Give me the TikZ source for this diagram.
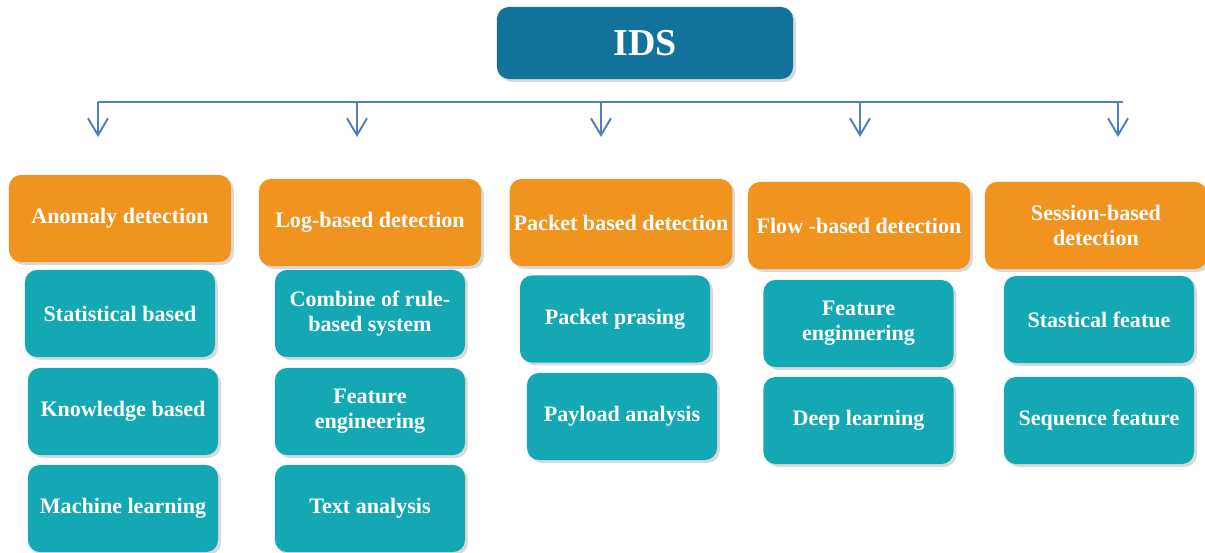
\documentclass[tikz,border=0pt]{standalone}
\usepackage{fontspec}
\setmainfont{Liberation Serif}
\usetikzlibrary{shadows,arrows.meta}

\definecolor{idsblue}{HTML}{13729B}
\definecolor{greinorange}{HTML}{F0931F}
\definecolor{bladteal}{HTML}{13A8B4}
\definecolor{pilblue}{HTML}{4F7FC0}

\begin{document}
\begin{tikzpicture}
   [
    x=0.025cm, y=-0.025cm,
    every node/.style={text=white, align=center, inner sep=1mm,
                       font=\bfseries\fontsize{15.7}{18}\selectfont},
    kasse/.style={rectangle, rounded corners=0.3cm,
                  drop shadow={shadow xshift=0.07cm, shadow yshift=-0.07cm,
                  opacity=0.3}},
    topp/.style={kasse, fill=idsblue, minimum width=7.4cm, minimum height=1.8cm,
                 font=\bfseries\fontsize{27}{30}\selectfont},
    grein/.style={kasse, fill=greinorange, minimum width=5.55cm,
                  minimum height=2.175cm},
    blad/.style={kasse, fill=bladteal, minimum width=4.75cm,
                 minimum height=2.175cm},
    linje/.style={draw=pilblue, line width=1.4pt},
    pil/.style={linje, -{Straight Barb[length=0.42cm,width=0.5cm]}}
   ]

\useasboundingbox (0,0) rectangle (1205,553);

\node[topp] (ids) at (645,43) {IDS};

% bar and arrows
\coordinate (b1) at (98,102);
\coordinate (b2) at (357,102);
\coordinate (b3) at (601,102);
\coordinate (b4) at (860,102);
\coordinate (b5) at (1118,102);
\coordinate (bslutt) at (1123,102);
\coordinate (e1) at (98,137);
\coordinate (e2) at (357,137);
\coordinate (e3) at (601,137);
\coordinate (e4) at (860,137);
\coordinate (e5) at (1118,137);

\draw[linje] (b1) -- (bslutt);
\draw[pil] (b1) -- (e1);
\draw[pil] (b2) -- (e2);
\draw[pil] (b3) -- (e3);
\draw[pil] (b4) -- (e4);
\draw[pil] (b5) -- (e5);

%lv1 branch1
\node[grein] (anomaly) at (120,218.5) {Anomaly detection};
    % lv2 leaves
    \node[blad] (stat) at (120,313.5) {Statistical based};
    \node[blad] (know) at (123,411.5) {Knowledge based};
    \node[blad] (ml) at (123,508.5) {Machine learning};

%lv1 branch2
\node[grein] (logbased) at (370,222.5) {Log-based detection};
    % lv2 leaves
    \node[blad] (rule) at (370,313.5) {Combine of rule-\\based system};
    \node[blad] (feateng) at (370,411.5) {Feature\\engineering};
    \node[blad] (text) at (370,508.5) {Text analysis};

%lv1 branch3
\node[grein] (packet) at (621,222.5) {Packet based detection};
    % lv2 leaves
    \node[blad] (parse) at (615,319) {Packet prasing};
    \node[blad] (payload) at (622,416.5) {Payload analysis};

%lv1 branch4
\node[grein] (flow) at (859,225.5) {Flow -based detection};
    % lv2 leaves
    \node[blad] (flowfeat) at (858.5,323.5) {Feature\\enginnering};
    \node[blad] (deep) at (858.5,420.5) {Deep learning};

%lv1 branch5
\node[grein] (session) at (1096,225.5) {Session-based\\detection};
    % lv2 leaves
    \node[blad] (stastic) at (1099,319.5) {Stastical featue};
    \node[blad] (sequence) at (1099,420.5) {Sequence feature};

\end{tikzpicture}
\end{document}
